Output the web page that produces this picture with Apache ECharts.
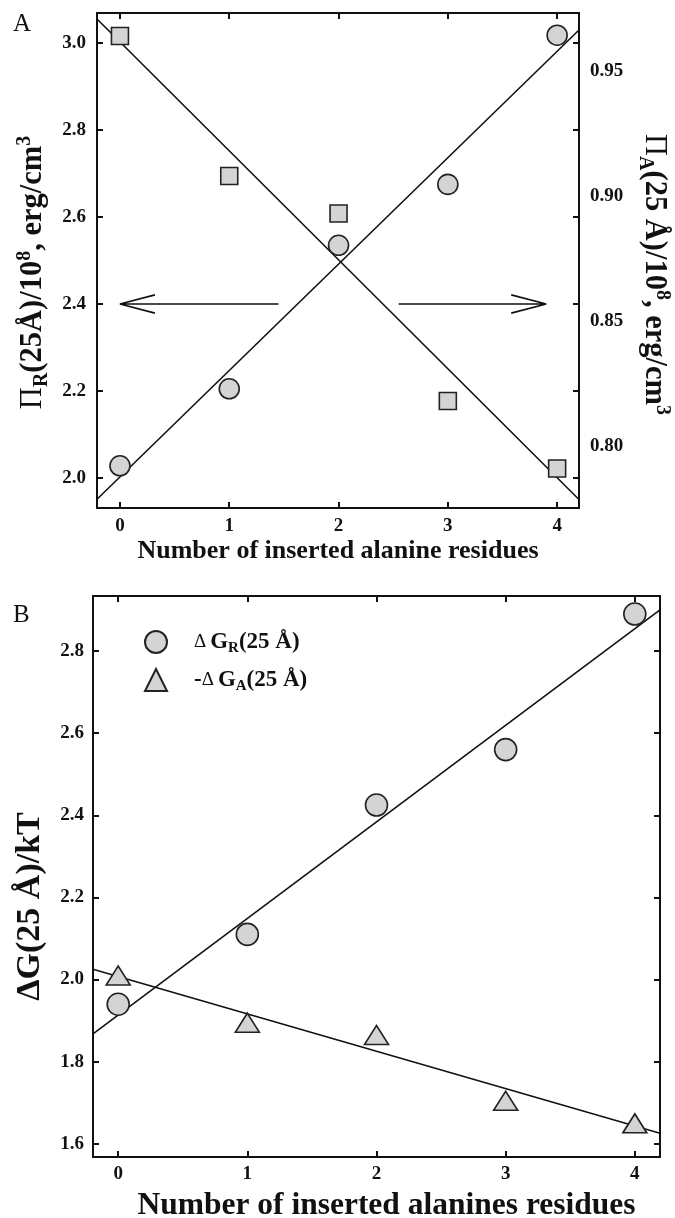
<!DOCTYPE html>
<html><head><meta charset="utf-8">
<script src="https://cdn.jsdelivr.net/npm/echarts@6/dist/echarts.min.js"></script>
<style>html,body{margin:0;padding:0;background:#fff}#c{width:675px;height:1218px}</style>
</head><body><div id="c"></div>
<script>
// ---------- data ----------
const xValues = [0, 1, 2, 3, 4];
const xTickLabels = [0, 1, 2, 3, 4];
// Panel A
const piR = [2.028, 2.205, 2.535, 2.675, 3.018];        // circles, left axis
const piA = [0.964, 0.908, 0.893, 0.818, 0.791];        // squares, right axis
const fitPiR = [[-0.21, 1.951], [4.2, 3.03]];
const fitPiA = [[-0.21, 0.9708], [4.2, 0.7786]];
const arrowLeft = [[1.45, 2.4], [0, 2.4], [0.32, 2.421], [0, 2.4], [0.32, 2.379]];
const arrowRight = [[2.55, 2.4], [3.9, 2.4], [3.58, 2.421], [3.9, 2.4], [3.58, 2.379]];
const yTicksA = [2.0, 2.2, 2.4, 2.6, 2.8, 3.0];
const yTicksA2 = [0.80, 0.85, 0.90, 0.95];
// Panel B
const dGR = [1.94, 2.11, 2.425, 2.56, 2.89];
const dGA = [2.01, 1.895, 1.865, 1.705, 1.65];
const fitGR = [[-0.195, 1.868], [4.195, 2.90]];
const fitGA = [[-0.195, 2.025], [4.195, 1.626]];
const yTicksB = [1.6, 1.8, 2.0, 2.2, 2.4, 2.6, 2.8];

// ---------- styles ----------
const F = '"Liberation Serif", "Times New Roman", serif';
const INK = '#111';
const FILL = '#d4d4d4';
const axisLine = {show: true, onZero: false, lineStyle: {color: INK, width: 2}};
const tick = (vals) => ({show: true, inside: true, length: 6, customValues: vals, lineStyle: {color: INK, width: 2}});
const lbl = (vals, fmt, margin) => ({show: true, customValues: vals, formatter: fmt, margin: margin,
  fontFamily: F, fontSize: 19, fontWeight: 'bold', color: INK});
const noLbl = {show: false};
const pts = (ys) => xValues.map((x, i) => [x, ys[i]]);

const titleRich = {
  pi: {fontFamily: F, fontSize: 30.5, fontWeight: 'normal', color: INK, lineHeight: 37},
  b: {fontFamily: F, fontSize: 30.5, fontWeight: 'bold', color: INK, lineHeight: 37},
  sub: {fontFamily: F, fontSize: 20, fontWeight: 'bold', color: INK, lineHeight: 18, verticalAlign: 'bottom'},
  sup: {fontFamily: F, fontSize: 20, fontWeight: 'bold', color: INK, lineHeight: 18, verticalAlign: 'top'}
};
const legendRich = {
  sp: {width: 22},
  d: {fontFamily: F, fontSize: 19, fontWeight: 'normal', color: INK, lineHeight: 28, padding: [0, 4, 0, 0]},
  g: {fontFamily: F, fontSize: 23, fontWeight: 'bold', color: INK, lineHeight: 28},
  s: {fontFamily: F, fontSize: 15, fontWeight: 'bold', color: INK, lineHeight: 14, verticalAlign: 'bottom'},
  b: {fontFamily: F, fontSize: 23, fontWeight: 'bold', color: INK, lineHeight: 28}
};
const legendText = {
  dGR: '{sp|}{d|Δ}{g|G}{s|R}{b|(25 Å)}',
  dGA: '{sp|}{b|-}{d|Δ}{g|G}{s|A}{b|(25 Å)}'
};

const fitLine = (data, xi, yi) => ({type: 'line', data: data, xAxisIndex: xi, yAxisIndex: yi,
  symbol: 'none', silent: true, z: 2, lineStyle: {color: INK, width: 1.6}});
const marker = (name, data, xi, yi, symbol, size) => ({type: 'scatter', name: name, data: data,
  xAxisIndex: xi, yAxisIndex: yi, symbol: symbol, symbolSize: size, z: 4, silent: true,
  itemStyle: {color: FILL, borderColor: '#222', borderWidth: 1.6, opacity: 1}});

const option = {
  animation: false,
  backgroundColor: '#fff',
  graphic: [
    {type: 'text', left: 13, top: 12, style: {text: 'A', font: '25px ' + F, fill: INK}},
    {type: 'text', left: 13, top: 603, style: {text: 'B', font: '25px ' + F, fill: INK}}
  ],
  grid: [
    {left: 97, top: 13, width: 482, height: 495, containLabel: false, outerBoundsMode: 'none'},
    {left: 93, top: 596, width: 567, height: 561, containLabel: false, outerBoundsMode: 'none'}
  ],
  legend: {
    data: ['dGR', 'dGA'], orient: 'vertical', left: 144, top: 630, padding: 0,
    itemWidth: 22, itemHeight: 22, itemGap: 12, selectedMode: false,
    formatter: (n) => legendText[n],
    textStyle: {rich: legendRich}
  },
  xAxis: [
    {gridIndex: 0, type: 'value', position: 'bottom', min: -0.21, max: 4.2,
     axisLine: axisLine, axisTick: tick(xTickLabels), splitLine: {show: false},
     axisLabel: lbl(xTickLabels, (v) => String(v), 9),
     name: 'Number of inserted alanine residues', nameLocation: 'middle', nameGap: 30,
     nameTextStyle: {fontFamily: F, fontSize: 26, fontWeight: 'bold', color: INK}},
    {gridIndex: 0, type: 'value', position: 'top', min: -0.21, max: 4.2,
     axisLine: axisLine, axisTick: tick(xTickLabels), splitLine: {show: false}, axisLabel: noLbl},
    {gridIndex: 1, type: 'value', position: 'bottom', min: -0.195, max: 4.195,
     axisLine: axisLine, axisTick: tick(xTickLabels), splitLine: {show: false},
     axisLabel: lbl(xTickLabels, (v) => String(v), 8),
     name: 'Number of inserted alanines residues', nameLocation: 'middle', nameGap: 33,
     nameTextStyle: {fontFamily: F, fontSize: 31.5, fontWeight: 'bold', color: INK, padding: [0, 0, 0, 20]}},
    {gridIndex: 1, type: 'value', position: 'top', min: -0.195, max: 4.195,
     axisLine: axisLine, axisTick: tick(xTickLabels), splitLine: {show: false}, axisLabel: noLbl}
  ],
  yAxis: [
    {gridIndex: 0, type: 'value', position: 'left', min: 1.931, max: 3.069,
     axisLine: axisLine, axisTick: tick(yTicksA), splitLine: {show: false},
     axisLabel: lbl(yTicksA, (v) => v.toFixed(1), 11),
     name: '{pi|Π}{sub|R}{b|(25Å)/10}{sup|8}{b|, erg/cm}{sup|3}',
     nameLocation: 'middle', nameGap: 43.5, nameRotate: 90,
     nameTextStyle: {rich: titleRich, padding: [0, 24, 0, 0]}},
    {gridIndex: 0, type: 'value', position: 'right', min: 0.7752, max: 0.9732,
     axisLine: axisLine, axisTick: {show: false}, splitLine: {show: false},
     axisLabel: lbl(yTicksA2, (v) => v.toFixed(2), 11),
     name: '{pi|Π}{sub|A}{b|(25 Å)/10}{sup|8}{b|, erg/cm}{sup|3}',
     nameLocation: 'middle', nameGap: 56.5, nameRotate: -90,
     nameTextStyle: {rich: titleRich, padding: [0, 0, 0, 28]}},
    {gridIndex: 0, type: 'value', position: 'right', min: 1.931, max: 3.069,
     axisLine: axisLine, axisTick: tick(yTicksA), splitLine: {show: false}, axisLabel: noLbl},
    {gridIndex: 1, type: 'value', position: 'left', min: 1.568, max: 2.934,
     axisLine: axisLine, axisTick: tick(yTicksB), splitLine: {show: false},
     axisLabel: lbl(yTicksB, (v) => v.toFixed(1), 9),
     name: 'ΔG(25 Å)/kT', nameLocation: 'middle', nameGap: 46, nameRotate: 90,
     nameTextStyle: {fontFamily: F, fontSize: 34, fontWeight: 'bold', color: INK, padding: [0, 60, 0, 0]}},
    {gridIndex: 1, type: 'value', position: 'right', min: 1.568, max: 2.934,
     axisLine: axisLine, axisTick: tick(yTicksB), splitLine: {show: false}, axisLabel: noLbl}
  ],
  series: [
    fitLine(fitPiR, 0, 0),
    fitLine(fitPiA, 0, 1),
    fitLine(arrowLeft, 0, 0),
    fitLine(arrowRight, 0, 0),
    marker('piR', pts(piR), 0, 0, 'circle', 20),
    marker('piA', pts(piA), 0, 1, 'rect', 17),
    fitLine(fitGR, 2, 3),
    fitLine(fitGA, 2, 3),
    marker('dGR', pts(dGR), 2, 3, 'circle', 22),
    marker('dGA', pts(dGA), 2, 3, 'triangle', [24, 19])
  ]
};
const chart = echarts.init(document.getElementById('c'), null, {renderer: 'canvas'});
chart.setOption(option);
</script></body></html>
